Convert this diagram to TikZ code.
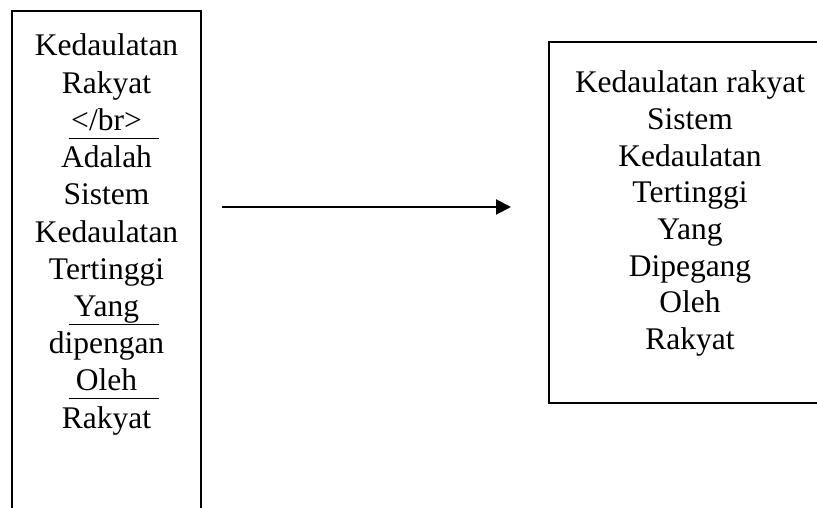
\documentclass[tikz,border=0pt]{standalone}
\usepackage{fontspec}
\setmainfont{Liberation Serif}
\usetikzlibrary{arrows.meta}

\tikzset{
  boxline/.style={line width=2.2pt},
  linetext/.style={anchor=base,inner sep=0pt,font=\fontsize{31.5}{37}\selectfont},
  uline/.style={line width=1.3pt}
}

\begin{document}
\begin{tikzpicture}[x=1pt,y=-1pt]
\useasboundingbox (0,0) rectangle (817,508);
\clip (0,0) rectangle (817,508);
\draw[boxline] (12,11) rectangle (201,540);
\draw[boxline] (549,42) rectangle (831,403);
\foreach \txt [count=\i] in {Kedaulatan,Rakyat,</br>,Adalah,Sistem,Kedaulatan,Tertinggi,Yang,dipengan,Oleh,Rakyat}
  \node[linetext] (left\i) at (106.5,{56+37.2*(\i-1)}) {\txt};
\foreach \txt [count=\i] in {Kedaulatan rakyat,Sistem,Kedaulatan,Tertinggi,Yang,Dipegang,Oleh,Rakyat}
  \node[linetext] (right\i) at (690,{93+36.6*(\i-1)}) {\txt};
\draw[uline] ([shift={(-38,8)}]left3.base) -- ([shift={(52,8)}]left3.base);
\draw[uline] ([shift={(-38,8)}]left8.base) -- ([shift={(52,8)}]left8.base);
\draw[uline] ([shift={(-38,8)}]left10.base) -- ([shift={(52,8)}]left10.base);
\coordinate (arrowstart) at (222,207);
\coordinate (arrowend) at (511,207);
\draw[line width=2pt,-{Triangle[length=15pt,width=15pt]}] (arrowstart) -- (arrowend);
\end{tikzpicture}
\end{document}
